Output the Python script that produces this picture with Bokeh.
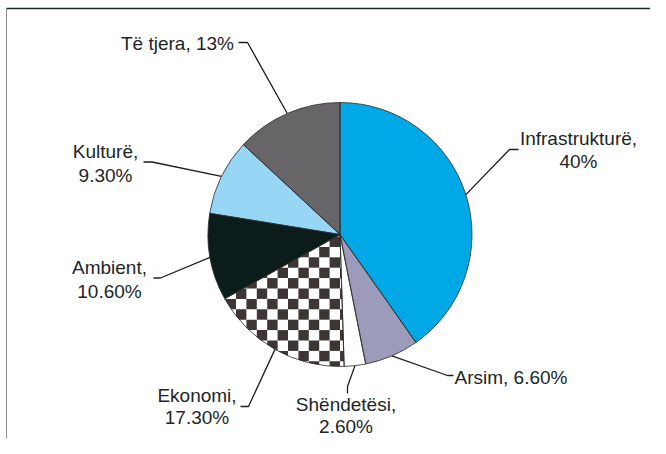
import math
from bokeh.plotting import figure
from bokeh.models import Range1d
from bokeh.embed import file_html
from bokeh.resources import INLINE
from bokeh.core.properties import value

# ---- data ----
categories = ["Infrastrukturë", "Arsim", "Shëndetësi", "Ekonomi", "Ambient", "Kulturë", "Të tjera"]
shares = [40.0, 6.6, 2.6, 17.3, 10.6, 9.3, 13.0]
share_labels = ["40%", "6.60%", "2.60%", "17.30%", "10.60%", "9.30%", "13%"]

# ---- styles / layout ----
colors = ["#00a8e6", "#9c9cba", "#ffffff", "#ffffff", "#0b1c1a", "#97d7f5", "#686568"]
CHECK_DARK = "#3e3535"
CELL = 10.4
W, H = 650, 438
CX, CY, R = 339.5, 234.0, 132.0
FONT = value("Liberation Sans")
TXT = "#1c2626"
label_x = [578, 510.5, 345.5, 196.5, 109, 105, 177]
label_y = [138, 376.5, 404, 394.5, 267, 151, 42.5]
line_gap = [23, 0, 22, 22.5, 23.5, 23.5, 0]
two_line = [True, False, True, True, True, True, False]
elbow_x = [509, 447, 347, 248, 160, 151.5, 247]
elbow_y = [149, 375, 386, 406, 277.5, 161.5, 42]
end_x = [518, 453, 347, 240, 153, 143, 238]
end_y = [149, 375, 393, 406, 277.5, 161.5, 42]

p = figure(width=W, height=H, x_range=Range1d(0, W), y_range=Range1d(H, 0),
           output_backend="svg", toolbar_location=None, min_border=0,
           x_axis_type=None, y_axis_type=None)
p.grid.visible = False
p.outline_line_color = None
p.background_fill_color = "white"
p.border_fill_color = "white"

total = sum(shares)
a_start, a_end = [], []  # clockwise from 12 o'clock, radians
cum = 0.0
for s in shares:
    a_start.append(cum / total * 2 * math.pi)
    cum += s
    a_end.append(cum / total * 2 * math.pi)
starts = [math.pi / 2 - b for b in a_end]
ends = [math.pi / 2 - a for a in a_start]
mids = [(a + b) / 2 for a, b in zip(a_start, a_end)]


def pt(ang, r=R):
    return CX + r * math.sin(ang), CY - r * math.cos(ang)


p.wedge(x=CX, y=CY, radius=R, start_angle=starts, end_angle=ends,
        fill_color=colors, line_color=None)

# checker fill for "Ekonomi": dark cells clipped to the sector
k = categories.index("Ekonomi")
n_arc = 80
sector = [(CX, CY)] + [pt(a_start[k] + (a_end[k] - a_start[k]) * t / n_arc) for t in range(n_arc + 1)]
area = sum(sector[i][0] * sector[(i + 1) % len(sector)][1] - sector[(i + 1) % len(sector)][0] * sector[i][1]
           for i in range(len(sector)))
sgn = 1 if area > 0 else -1


def clip(poly, cp):
    out = poly
    for i in range(len(cp)):
        ax, ay = cp[i]
        bx, by = cp[(i + 1) % len(cp)]
        if abs(ax - bx) < 1e-9 and abs(ay - by) < 1e-9:
            continue
        def inside(q):
            return sgn * ((bx - ax) * (q[1] - ay) - (by - ay) * (q[0] - ax)) >= 0
        def inter(q1, q2):
            d1 = (bx - ax) * (q1[1] - ay) - (by - ay) * (q1[0] - ax)
            d2 = (bx - ax) * (q2[1] - ay) - (by - ay) * (q2[0] - ax)
            t = d1 / (d1 - d2)
            return (q1[0] + t * (q2[0] - q1[0]), q1[1] + t * (q2[1] - q1[1]))
        inp = out
        out = []
        if not inp:
            break
        for j in range(len(inp)):
            cur, prev = inp[j], inp[j - 1]
            if inside(cur):
                if not inside(prev):
                    out.append(inter(prev, cur))
                out.append(cur)
            elif inside(prev):
                out.append(inter(prev, cur))
    return out


xs_min = min(q[0] for q in sector); xs_max = max(q[0] for q in sector)
ys_min = min(q[1] for q in sector); ys_max = max(q[1] for q in sector)
oy = CY + 2
i0 = int(math.floor((xs_min - CX) / CELL)) - 1
i1 = int(math.ceil((xs_max - CX) / CELL)) + 1
j0 = int(math.floor((ys_min - oy) / CELL)) - 1
j1 = int(math.ceil((ys_max - oy) / CELL)) + 1
cx_list, cy_list = [], []
for i in range(i0, i1):
    for j in range(j0, j1):
        if (i + j) % 2 == 0:
            continue
        x0 = CX + i * CELL; y0 = oy + j * CELL
        sq = [(x0, y0), (x0 + CELL, y0), (x0 + CELL, y0 + CELL), (x0, y0 + CELL)]
        c = clip(sq, sector)
        if len(c) >= 3:
            cx_list.append([q[0] for q in c])
            cy_list.append([q[1] for q in c])
p.patches(xs=cx_list, ys=cy_list, fill_color=CHECK_DARK, line_color=None)

# slice outlines
p.wedge(x=CX, y=CY, radius=R, start_angle=starts, end_angle=ends,
        fill_color=None, line_color="#2a2a2a", line_width=0.8)

# leader lines
xs, ys = [], []
for i, m in enumerate(mids):
    px, py = pt(m)
    xs.append([px, elbow_x[i], end_x[i]])
    ys.append([py, elbow_y[i], end_y[i]])
p.multi_line(xs=xs, ys=ys, line_color="#1a1f1f", line_width=1.3)

# labels
t1, t1x, t1y, t2, t2x, t2y = [], [], [], [], [], []
for i, c in enumerate(categories):
    if two_line[i]:
        t1.append(c + ",")
        t2.append(share_labels[i])
        t2x.append(label_x[i])
        t2y.append(label_y[i] + line_gap[i])
    else:
        t1.append(c + ", " + share_labels[i])
    t1x.append(label_x[i])
    t1y.append(label_y[i])
for tx, ty, tt in ((t1x, t1y, t1), (t2x, t2y, t2)):
    p.text(x=tx, y=ty, text=tt, text_font=FONT, text_font_size="19px",
           text_align="center", text_baseline="alphabetic", text_color=TXT)

# frame lines (top dark, left grey)
p.line(x=[6, W], y=[8, 8], line_color="#1e2b2b", line_width=1.5)
p.line(x=[6, 6], y=[8, H], line_color="#8a8a8a", line_width=1)

open("out.html", "w").write(file_html(p, INLINE))
